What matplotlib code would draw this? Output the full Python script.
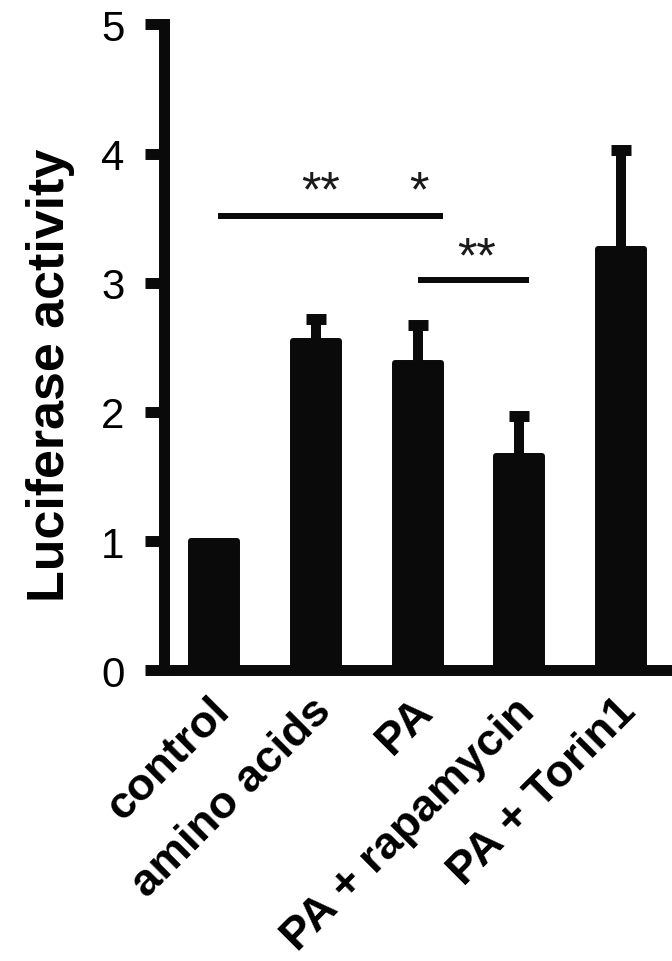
import matplotlib
matplotlib.use("Agg")
import matplotlib.pyplot as plt
from matplotlib import font_manager

# ---------------- data ----------------
categories = ["control", "amino acids", "PA", "PA + rapamycin", "PA + Torin1"]
values = [1.0, 2.55, 2.38, 1.66, 3.26]
errors = [0.0, 0.17, 0.29, 0.31, 0.77]
y_ticks = [0, 1, 2, 3, 4, 5]
y_label = "Luciferase activity"

# significance brackets
sig_lines = [(0.04, 2.245, 3.52), (2.0, 3.09, 3.02)]
sig_texts = [(1.04, 3.60, "**"), (2.01, 3.60, "*"), (2.58, 3.09, "**")]

# ---------------- fonts ----------------
names = {f.name for f in font_manager.fontManager.ttflist}
if "Liberation Sans Narrow" in names:
    NF = "Liberation Sans Narrow"
    k = 1.0
else:
    NF = "Liberation Sans"
    k = 0.84
RF = "Liberation Sans"
BLACK = "#0a0a0a"

fig = plt.figure(figsize=(6.72, 9.62), dpi=100)
ax = fig.add_axes([163.5 / 672, 0.30208, 1 - 163.5 / 672, 0.67152])

x = list(range(len(categories)))
tops = [v + e for v, e in zip(values, errors)]
ex = [xi for xi, e in zip(x, errors) if e > 0]
ey0 = [v for v, e in zip(values, errors) if e > 0]
ey1 = [t for t, e in zip(tops, errors) if e > 0]

# error bars (upper only)
ax.vlines(ex, ey0, ey1, colors=BLACK, linewidth=7.2, zorder=2)
ax.plot(ex, ey1, linestyle="none", marker="_", markersize=15.1,
        markeredgewidth=7.9, color=BLACK, zorder=2)

ax.bar(x, values, width=0.452, color=BLACK, edgecolor=BLACK,
       linewidth=4.3, joinstyle="round", zorder=3)

ax.set_xlim(-0.5, 4.5)
ax.set_ylim(0, 5)

for s in ["top", "right"]:
    ax.spines[s].set_visible(False)
for s in ["left", "bottom"]:
    ax.spines[s].set_linewidth(7.9)
    ax.spines[s].set_color(BLACK)
    ax.spines[s].set_capstyle("projecting")
    ax.spines[s].set_zorder(4)

ax.set_yticks(y_ticks)
ax.set_yticklabels([str(t) for t in y_ticks], fontfamily=NF, fontsize=36 * k)
ax.tick_params(axis="y", direction="out", length=14, width=7.9, pad=14,
               color=BLACK)
ax.set_xticks([])

# category labels
for xi, lab in zip(x, categories):
    ax.text(xi - 0.06, -0.15, lab, rotation=45, rotation_mode="anchor",
            ha="right", va="top", fontfamily=NF, fontweight="bold",
            fontsize=39 * k, clip_on=False, transform=ax.transData)

# significance
for x0, x1, yy in sig_lines:
    ax.plot([x0, x1], [yy, yy], color=BLACK, lw=4.3,
            solid_capstyle="butt", zorder=3)
for xs, ys, t in sig_texts:
    ax.text(xs, ys, t, ha="center", va="baseline", fontfamily=RF,
            fontsize=36, color="#1a1a1a")

fig.text(51 / 672, 1 - 375 / 962, y_label, rotation=90, ha="center",
         va="center", fontfamily=NF, fontweight="bold", fontsize=44.6 * k)

fig.savefig("out.png", dpi=100, facecolor="white")
